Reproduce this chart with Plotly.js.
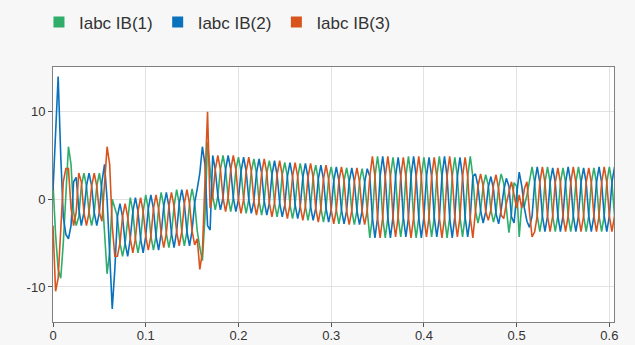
<!DOCTYPE html>
<html>
<head>
<meta charset="utf-8">
<script src="https://cdn.plot.ly/plotly-3.0.1.min.js"></script>
<style>html,body{margin:0;padding:0;background:#f7f7f7;}#chart{width:635px;height:345px;}</style>
</head>
<body>
<div id="chart"></div>
<script>
// sample interval of the logged signals (s)
const t0 = 0;
const dt = 1 / 360;
const seriesNames = ['Iabc IB(1)', 'Iabc IB(2)', 'Iabc IB(3)'];
const seriesColors = ['#2eae6a', '#0a72bd', '#d9541c'];
const xTicks = [0, 0.1, 0.2, 0.3, 0.4, 0.5, 0.6];
const yTicks = [-10, 0, 10];

// Iabc IB(1) (green)
const ib1 = [
  1.8, -4, -8, -9, -5, 1,
  6, 4, -1.5, -3, -2, 1.5,
  3, 1.5, -1.5, -3, -1.5, 1.5,
  3, 1, -4, -8.5, -6, 0,
  -1, -2, -5, -6.5, -5, -2,
  0.2, -1.4, -4.5, -6.1, -4.5, -1.4,
  0.5, -1.1, -4.2, -5.8, -4.2, -1.1,
  0.8, -0.8, -3.9, -5.5, -3.9, -0.8,
  1.1, -0.5, -3.7, -5.3, -3.7, -0.5,
  1.2, -0.4, -3.6, -5.5, -7, -2,
  6.5, 3.4, 0.4, -1.2, 0.4, 3.4,
  5.0, 3.4, 0.2, -1.4, 0.2, 3.4,
  4.8, 3.2, 0.0, -1.6, 0.0, 3.2,
  4.6, 3.0, -0.2, -1.8, -0.2, 3.0,
  4.4, 2.8, -0.4, -2.0, -0.4, 2.8,
  4.2, 2.6, -0.6, -2.2, -0.6, 2.6,
  4.1, 2.5, -0.8, -2.4, -0.8, 2.5,
  3.9, 2.3, -1.0, -2.6, -1.0, 2.3,
  3.7, 2.1, -1.2, -2.8, -1.2, 2.1,
  3.6, 2.0, -1.3, -2.9, -1.3, 2.0,
  3.5, 1.9, -1.3, -4.4, -2.1, 2.6,
  4.9, 2.6, -2.1, -4.4, -2.1, 2.6,
  4.8, 2.6, -2.0, -4.3, -2.0, 2.6,
  4.9, 2.6, -2.1, -4.4, -2.1, 2.6,
  4.8, 2.6, -2.0, -4.3, -2.0, 2.6,
  4.9, 2.6, -2.1, -4.4, -2.1, 2.6,
  4.8, 2.6, -2.0, -4.3, -2.0, 2.6,
  4.9, 2.6, -1.3, -2.7, -1.3, 1.5,
  2.8, 1.6, -1.2, -2.6, -1.4, 1.4,
  2.9, 1.8, -1.0, -3.8, -1.6, 1.9,
  1.5, -4.3, -0.5, -0.8, 0.5, 2.0,
  3.7, 1.9, -1.9, -3.7, -1.9, 1.9,
  3.7, 1.9, -1.9, -3.7, -1.9, 1.9,
  3.6, 1.9, -1.9, -3.7, -1.9, 1.9,
  3.7, 1.9, -1.9, -3.7, -1.9, 1.9,
  3.6, 1.9, -1.9, -3.7, -1.9, 1.9,
  3.7, 1.9, -1.9
];

// Iabc IB(2) (blue)
const ib2 = [
  1, 7, 14, 5, -2, -4,
  -4.5, -3, 2, 2.5, -1, -3,
  -1.5, 1.5, 3, 1.5, -1.5, -3,
  -1.5, 2, 4, 0, -6, -12.5,
  -8, -2, -0.5, -2, -5, -6.5,
  -4.5, -1.4, 0.2, -1.4, -4.5, -6.1,
  -4.2, -1.1, 0.5, -1.1, -4.2, -5.8,
  -3.9, -0.8, 0.8, -0.8, -3.9, -5.5,
  -3.7, -0.5, 1.1, -0.5, -3.7, -5.3,
  -3.6, -0.4, 1.2, 3, 6, 4,
  -3, -3.5, 5.0, 3.4, 0.4, -1.2,
  0.2, 3.4, 5.0, 3.4, 0.2, -1.4,
  0.0, 3.2, 4.8, 3.2, 0.0, -1.6,
  -0.2, 3.0, 4.6, 3.0, -0.2, -1.8,
  -0.4, 2.8, 4.4, 2.8, -0.4, -2.0,
  -0.6, 2.6, 4.2, 2.6, -0.6, -2.2,
  -0.8, 2.5, 4.1, 2.5, -0.8, -2.4,
  -1.0, 2.3, 3.9, 2.3, -1.0, -2.6,
  -1.2, 2.1, 3.7, 2.1, -1.2, -2.8,
  -1.3, 2.0, 3.6, 2.0, -1.3, -2.9,
  -1.3, 1.9, 3.5, 2.6, -2.1, -4.4,
  -2.1, 2.6, 4.9, 2.6, -2.1, -4.4,
  -2.0, 2.6, 4.8, 2.6, -2.0, -4.3,
  -2.1, 2.6, 4.9, 2.6, -2.1, -4.4,
  -2.0, 2.6, 4.8, 2.6, -2.0, -4.3,
  -2.1, 2.6, 4.9, 2.6, -2.1, -4.4,
  -2.0, 2.6, 4.8, 2.6, -2.0, -4.3,
  -2.1, 2.6, 2.9, 1.5, -1.3, -2.7,
  -1.4, 1.4, 2.6, 1.2, -1.6, -2.8,
  -1.2, 1.0, 2.4, 1.5, -2.0, -2.7,
  0.5, 3.1, 1.5, -1.0, -2.5, -3.2,
  -1.9, 1.9, 3.7, 1.9, -1.9, -3.7,
  -1.9, 1.9, 3.6, 1.9, -1.9, -3.7,
  -1.9, 1.9, 3.7, 1.9, -1.9, -3.7,
  -1.9, 1.9, 3.6, 1.9, -1.9, -3.7,
  -1.9, 1.9, 3.7, 1.9, -1.9, -3.7,
  -1.9, 1.9, 3.7
];

// Iabc IB(3) (orange)
const ib3 = [
  -3, -10.5, -9, -3, 2, 3.5,
  3.5, -1, -3, -1.5, 3, 2,
  -1.5, -3, -1.5, 1.5, 3, 1.5,
  -1.5, -2.5, 2, 6, 4, -3,
  -6.5, -6.5, -5, -2, -0.5, -2,
  -4.5, -6.1, -4.5, -1.4, 0.2, -1.4,
  -4.2, -5.8, -4.2, -1.1, 0.5, -1.1,
  -3.9, -5.5, -3.9, -0.8, 0.8, -0.8,
  -3.7, -5.3, -3.7, -0.5, 1.1, -0.5,
  -3.6, -5.2, -4.5, -8, -6, 3,
  10, -1, 0.4, 3.4, 5.0, 3.4,
  0.2, -1.4, 0.2, 3.4, 5.0, 3.4,
  0.0, -1.6, 0.0, 3.2, 4.8, 3.2,
  -0.2, -1.8, -0.2, 3.0, 4.6, 3.0,
  -0.4, -2.0, -0.4, 2.8, 4.4, 2.8,
  -0.6, -2.2, -0.6, 2.6, 4.2, 2.6,
  -0.8, -2.4, -0.8, 2.5, 4.1, 2.5,
  -1.0, -2.6, -1.0, 2.3, 3.9, 2.3,
  -1.2, -2.8, -1.2, 2.1, 3.7, 2.1,
  -1.3, -2.9, -1.3, 2.0, 3.6, 2.0,
  -1.3, -2.9, -1.3, 2.6, 4.9, 2.6,
  -2.1, -4.4, -2.1, 2.6, 4.9, 2.6,
  -2.0, -4.3, -2.0, 2.6, 4.8, 2.6,
  -2.1, -4.4, -2.1, 2.6, 4.9, 2.6,
  -2.0, -4.3, -2.0, 2.6, 4.8, 2.6,
  -2.1, -4.4, -2.1, 2.6, 4.9, 2.6,
  -2.0, -4.3, -2.0, 2.6, 4.8, 2.6,
  -2.1, -4.4, -1.3, 1.5, 2.9, 1.5,
  -1.4, -2.4, -1.2, 1.6, 2.8, 1.2,
  -1.8, -2.2, -0.5, 0.8, 2.0, 0.5,
  -1.0, 0.5, -1.0, 1.2, 2.0, -1.5,
  -4.3, -3.7, -1.9, 1.9, 3.7, 1.9,
  -1.9, -3.7, -1.9, 1.9, 3.6, 1.9,
  -1.9, -3.7, -1.9, 1.9, 3.7, 1.9,
  -1.9, -3.7, -1.9, 1.9, 3.6, 1.9,
  -1.9, -3.7, -1.9, 1.9, 3.7, 1.9,
  -1.9, -3.7, -1.9
];

const allSeries = [ib1, ib2, ib3];
const traces = [];
allSeries.forEach((ys, k) => {
  traces.push({
    type: 'scatter', mode: 'lines', y: ys, x0: t0, dx: dt,
    line: {shape: 'linear', color: seriesColors[k], width: 1.6},
    showlegend: false, hoverinfo: 'skip'
  });
});
// legend entries (square swatches)
seriesNames.forEach((nm, k) => {
  traces.push({
    type: 'scatter', mode: 'markers', x: [null], y: [null], name: nm,
    marker: {symbol: 'square', size: 11, color: seriesColors[k]},
    showlegend: true
  });
});

const axisCommon = {
  showgrid: true, gridcolor: '#e2e2e2', gridwidth: 1,
  zeroline: false, showline: true, mirror: true, linecolor: '#808080', linewidth: 1,
  ticks: 'outside', ticklen: 4, tickcolor: '#555',
  tickfont: {family: 'Liberation Sans, Arial, sans-serif', size: 13, color: '#333'}
};

const layout = {
  width: 635, height: 345,
  margin: {l: 53, r: 21, t: 67, b: 23, autoexpand: false},
  paper_bgcolor: '#f7f7f7', plot_bgcolor: '#ffffff',
  showlegend: true,
  legend: {
    orientation: 'h', x: -0.025, xanchor: 'left', y: 1.175, yanchor: 'middle',
    font: {family: 'Liberation Sans, Arial, sans-serif', size: 17, color: '#333'},
    bgcolor: 'rgba(0,0,0,0)', itemclick: false
  },
  xaxis: Object.assign({}, axisCommon, {range: [0, 0.605], tickvals: xTicks, ticktext: xTicks.map(String), ticklabelstandoff: -3}),
  yaxis: Object.assign({}, axisCommon, {range: [-14, 15.1], tickvals: yTicks, ticktext: yTicks.map(String)})
};

Plotly.newPlot('chart', traces, layout, {displayModeBar: false, staticPlot: true});
</script>
</body>
</html>
